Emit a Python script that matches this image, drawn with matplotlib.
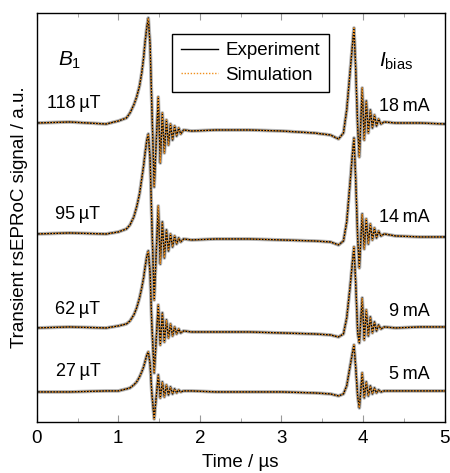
"""
Stacked rsEPRoC transients: experiment vs simulation for four B1 / I_bias settings.
"""

import numpy as np
import matplotlib
matplotlib.use("Agg")
import matplotlib.pyplot as plt
from matplotlib.lines import Line2D

plt.rcParams["font.family"] = ["Liberation Sans", "DejaVu Sans"]
plt.rcParams["mathtext.fontset"] = "custom"
plt.rcParams["mathtext.it"] = "Liberation Sans:italic"
plt.rcParams["mathtext.rm"] = "Liberation Sans"

# shared time axis (µs)
TIME = [0.0, 0.4, 0.85, 1.0, 1.1, 1.143, 1.19, 1.225, 1.26, 1.287,
        1.31, 1.327, 1.35, 1.368, 1.39, 1.41, 1.44, 1.49, 1.515, 1.54,
        1.565, 1.59, 1.615, 1.64, 1.665, 1.69, 1.715, 1.74, 1.765, 1.80,
        1.9, 2.2, 2.6, 3.0, 3.4, 3.6, 3.70, 3.76, 3.80, 3.84,
        3.868, 3.889, 3.91, 3.935, 3.955, 3.99, 4.015, 4.04, 4.065, 4.09,
        4.115, 4.14, 4.165, 4.19, 4.22, 4.26, 4.4, 4.7, 5.0]

# signals (a.u.), relative to each trace's baseline
SIG_118 = [0.00, 0.01, -0.01, 0.02, 0.05, 0.10, 0.18, 0.26, 0.37, 0.50,
           0.65, 0.80, 0.96, 1.05, 0.78, 0.20, -0.64, 0.26, -0.40, 0.10,
           -0.30, 0.03, -0.22, -0.01, -0.17, -0.03, -0.13, -0.05, -0.11, -0.07,
           -0.08, -0.07, -0.07, -0.08, -0.10, -0.12, -0.16, -0.10, 0.13, 0.50,
           0.76, 0.95, 0.55, -0.05, -0.34, 0.35, -0.17, 0.22, -0.10, 0.13,
           -0.05, 0.08, -0.03, 0.04, -0.01, 0.01, 0.00, 0.00, -0.01]
SIG_95 = [0.00, 0.01, 0.00, 0.02, 0.05, 0.09, 0.17, 0.27, 0.40, 0.55,
          0.68, 0.80, 0.94, 1.00, 0.75, 0.15, -0.66, 0.28, -0.30, 0.12,
          -0.24, 0.04, -0.17, 0.00, -0.13, -0.02, -0.10, -0.04, -0.08, -0.05,
          -0.06, -0.05, -0.05, -0.06, -0.07, -0.08, -0.11, -0.07, 0.12, 0.50,
          0.78, 0.96, 0.55, -0.05, -0.34, 0.20, -0.15, 0.15, -0.10, 0.10,
          -0.06, 0.06, -0.04, 0.03, -0.02, 0.00, -0.02, -0.03, -0.03]
SIG_62 = [0.00, 0.01, 0.00, 0.02, 0.04, 0.07, 0.13, 0.20, 0.30, 0.40,
          0.50, 0.60, 0.72, 0.77, 0.55, 0.05, -0.45, 0.23, -0.17, 0.15,
          -0.14, 0.08, -0.10, 0.04, -0.08, 0.01, -0.06, -0.01, -0.05, -0.03,
          -0.04, -0.04, -0.04, -0.05, -0.06, -0.07, -0.09, -0.06, 0.10, 0.40,
          0.64, 0.81, 0.45, -0.05, -0.15, 0.30, -0.12, 0.18, -0.08, 0.11,
          -0.05, 0.06, -0.03, 0.03, -0.01, 0.01, 0.00, 0.01, 0.01]
SIG_27 = [0.00, 0.00, 0.01, 0.01, 0.03, 0.04, 0.07, 0.10, 0.15, 0.20,
          0.25, 0.30, 0.37, 0.40, 0.28, 0.00, -0.27, 0.17, -0.06, 0.10,
          -0.05, 0.07, -0.03, 0.05, -0.02, 0.03, -0.01, 0.02, 0.00, 0.01,
          0.01, 0.00, 0.00, 0.00, -0.01, -0.02, -0.04, -0.02, 0.06, 0.25,
          0.38, 0.47, 0.25, -0.05, -0.16, 0.19, -0.06, 0.10, -0.04, 0.06,
          -0.02, 0.04, -0.01, 0.02, 0.00, 0.01, 0.01, 0.01, 0.01]

B1_LABELS = ["118\u2009\u00b5T", "95\u2009\u00b5T", "62\u2009\u00b5T", "27\u2009\u00b5T"]
IBIAS_LABELS = ["18\u2009mA", "14\u2009mA", "9\u2009mA", "5\u2009mA"]
OFFSETS = [2.99, 1.88, 0.94, 0.30]

SIM_COLOR = "#F0901E"


def main():
    fig = plt.figure(figsize=(4.5, 4.73), dpi=100)
    ax = fig.add_axes([0.0816, 0.108, 0.9064, 0.8645])

    t = np.array(TIME)
    signals = [SIG_118, SIG_95, SIG_62, SIG_27]

    for sig, off in zip(signals, OFFSETS):
        y = np.array(sig) + off
        # grey halo stands in for the measurement noise band
        ax.plot(t, y, color="0.35", lw=2.6, alpha=0.45, solid_joinstyle="round")
        ax.plot(t, y, color="black", lw=1.0)
        ax.plot(t, y, color=SIM_COLOR, lw=1.0, ls=(0, (1, 1.2)))

    # trace labels
    for lab, off, dy in zip(B1_LABELS, OFFSETS, [0.19, 0.19, 0.18, 0.20]):
        ax.text(0.78, off + dy, lab, ha="right", va="center", fontsize=13)
    for lab, off, dy in zip(IBIAS_LABELS, OFFSETS, [0.16, 0.16, 0.16, 0.17]):
        ax.text(4.82, off + dy, lab, ha="right", va="center", fontsize=13)

    ax.text(0.26, 3.62, r"$B_{\mathrm{1}}$", fontsize=15, ha="left", va="center")
    ax.text(4.2, 3.61, r"$I_{\mathrm{bias}}$", fontsize=15, ha="left", va="center")

    handles = [
        Line2D([], [], color="black", lw=1.0),
        Line2D([], [], color=SIM_COLOR, lw=1.0, ls=(0, (1, 1.2))),
    ]
    leg = ax.legend(handles, ["Experiment", "Simulation"], loc="upper left",
                    bbox_to_anchor=(0.332, 0.949), borderaxespad=0,
                    fontsize=13.5, frameon=True, fancybox=False,
                    handlelength=2.0, handletextpad=0.4, borderpad=0.45,
                    labelspacing=0.4)
    leg.get_frame().set_edgecolor("black")
    leg.get_frame().set_linewidth(1.0)
    leg.get_frame().set_alpha(1)

    ax.set_xlim(0, 5)
    ax.set_ylim(0, 4.09)
    ax.set_xticks([0, 1, 2, 3, 4, 5])
    ax.set_xticks(np.arange(0.5, 5, 1.0), minor=True)
    ax.set_yticks([])
    ax.tick_params(axis="x", which="both", direction="in", top=True,
                   labelsize=13.5, pad=6, color="0.6")
    ax.tick_params(axis="x", which="major", length=5)
    ax.tick_params(axis="x", which="minor", length=3)
    for s in ax.spines.values():
        s.set_linewidth(1.0)

    ax.set_xlabel("Time / \u00b5s", fontsize=13.5, labelpad=5)
    ax.set_ylabel("Transient rsEPRoC signal / a.u.", fontsize=13.5, labelpad=6)

    fig.savefig("out.png", dpi=100, facecolor="white")


if __name__ == "__main__":
    main()
